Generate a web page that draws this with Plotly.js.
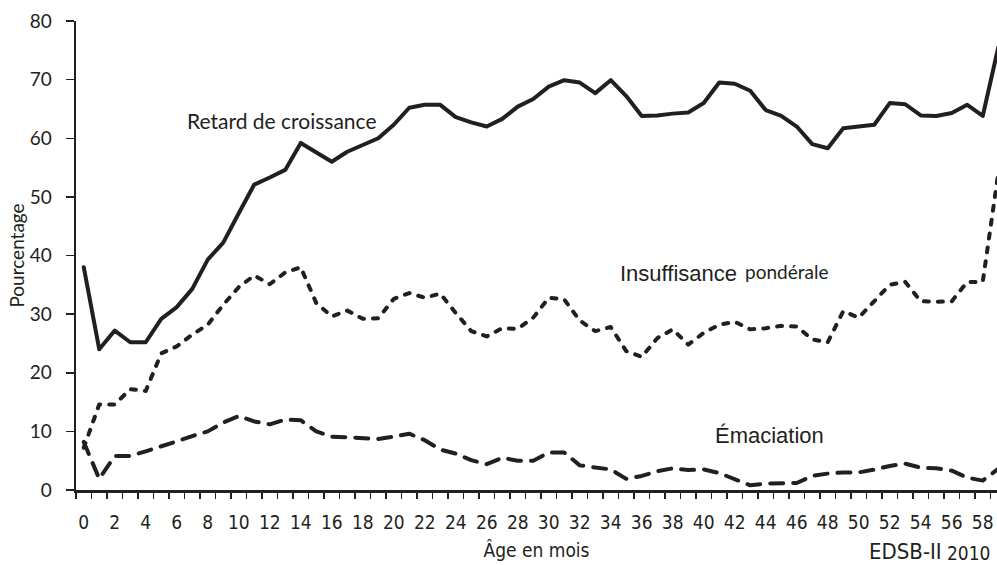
<!DOCTYPE html>
<html>
<head>
<meta charset="utf-8">
<script src="https://cdn.plot.ly/plotly-3.0.1.min.js"></script>
<style>
html, body { margin: 0; padding: 0; background: #fff; }
#chart { width: 997px; height: 565px; }
.scatterlayer path.js-line { stroke-linecap: round !important; stroke-linejoin: round !important; }
</style>
</head>
<body>
<div id="chart"></div>
<script>
// Age in months (categories)
const months = [0,1,2,3,4,5,6,7,8,9,10,11,12,13,14,15,16,17,18,19,20,21,22,23,24,25,26,27,28,29,30,31,32,33,34,35,36,37,38,39,40,41,42,43,44,45,46,47,48,49,50,51,52,53,54,55,56,57,58,59];

// Retard de croissance (%)
const retard = [38.0,24.0,27.2,25.2,25.2,29.2,31.2,34.3,39.3,42.2,
                47.2,52.1,53.3,54.6,59.2,57.6,56.0,57.7,58.9,60.0,
                62.3,65.2,65.7,65.7,63.6,62.7,62.0,63.3,65.4,66.7,
                68.8,69.9,69.5,67.7,69.9,67.2,63.8,63.9,64.2,64.4,
                66.0,69.5,69.3,68.1,64.8,63.8,62.0,59.0,58.3,61.7,
                62.0,62.3,66.0,65.8,63.9,63.8,64.3,65.7,63.8,75.5];

// Insuffisance pondérale (%)
const insuffisance = [7.2,14.6,14.6,17.2,16.9,23.3,24.5,26.5,28.2,31.6,
                      34.6,36.6,35.1,37.1,38.0,31.9,29.6,30.6,29.2,29.3,
                      32.6,33.6,32.8,33.5,30.2,27.1,26.2,27.6,27.5,29.4,
                      32.8,32.5,28.9,27.1,27.8,23.7,22.7,25.9,27.4,24.8,
                      26.8,28.2,28.7,27.4,27.6,28.0,27.9,25.7,25.2,30.5,
                      29.4,32.2,35.0,35.5,32.2,32.1,32.2,35.5,35.5,54.0];

// Émaciation (%)
const emaciation = [8.2,1.9,5.8,5.8,6.6,7.4,8.3,9.2,10.0,11.5,
                    12.6,11.7,11.2,12.0,11.9,10.0,9.1,9.0,8.9,8.7,
                    9.1,9.6,8.5,6.9,6.2,5.1,4.4,5.5,5.0,5.0,
                    6.4,6.4,4.2,3.8,3.5,1.9,2.4,3.2,3.7,3.4,
                    3.5,2.9,1.8,0.8,1.1,1.1,1.2,2.4,2.8,3.0,
                    3.0,3.5,4.1,4.5,3.8,3.7,3.3,2.1,1.6,3.6];

// Tick labels
const xTickVals = [0,2,4,6,8,10,12,14,16,18,20,22,24,26,28,30,32,34,36,38,40,42,44,46,48,50,52,54,56,58];
const xTickText = xTickVals.map(String);
const yTickVals = [0,10,20,30,40,50,60,70,80];

const INK = '#231f20';
const narrow = '"Liberation Sans Narrow", "Arial Narrow", "DejaVu Sans Condensed", sans-serif';
const calibri = 'Lato, "Open Sans", sans-serif';
const arial = '"Liberation Sans", Arial, sans-serif';

const traces = [
  { x: months, y: retard, type: 'scatter', mode: 'lines', name: 'Retard de croissance',
    line: { color: INK, width: 4 } },
  { x: months, y: insuffisance, type: 'scatter', mode: 'lines', name: 'Insuffisance pondérale',
    line: { color: INK, width: 4, dash: '5px,9px' } },
  { x: months, y: emaciation, type: 'scatter', mode: 'lines', name: 'Émaciation',
    line: { color: INK, width: 4, dash: '13px,10px' } }
];

const layout = {
  width: 997, height: 565,
  margin: { l: 76, r: 0, t: 21, b: 75, pad: 0 },
  paper_bgcolor: '#fff', plot_bgcolor: '#fff',
  showlegend: false,
  xaxis: {
    range: [-0.5, 58.92],
    tickmode: 'array', tickvals: xTickVals, ticktext: xTickText,
    ticks: '', showgrid: false, zeroline: false,
    showline: true, linecolor: INK, linewidth: 2.5,
    tickfont: { family: narrow, size: 19, color: INK },
    ticklabelstandoff: 14,
    minor: { tickmode: 'linear', tick0: -0.5, dtick: 1, ticks: 'outside', ticklen: 6, tickwidth: 1.5, tickcolor: INK, showgrid: false },
    title: { text: 'Âge en mois', font: { family: narrow, size: 19, color: INK }, standoff: 12 }
  },
  yaxis: {
    range: [0, 80],
    tickmode: 'array', tickvals: yTickVals,
    ticks: 'outside', ticklen: 8, tickwidth: 1.5, tickcolor: INK,
    showgrid: false, zeroline: false,
    showline: true, linecolor: INK, linewidth: 2.5,
    tickfont: { family: calibri, size: 19, color: INK },
    ticklabelstandoff: 10,
    title: { text: 'Pourcentage', font: { family: calibri, size: 19, color: INK }, standoff: 0 }
  },
  annotations: [
    { x: 12.77, y: 62.96, xref: 'x', yref: 'y', text: 'Retard de croissance', showarrow: false,
      xanchor: 'center', yanchor: 'middle', font: { family: calibri, size: 21, color: INK } },
    { x: 34.45, y: 36.9, xref: 'x', yref: 'y', text: 'Insuffisance', showarrow: false,
      xanchor: 'left', yanchor: 'middle', font: { family: arial, size: 22, color: INK } },
    { x: 42.55, y: 37.3, xref: 'x', yref: 'y', text: 'pondérale', showarrow: false,
      xanchor: 'left', yanchor: 'middle', font: { family: calibri, size: 19, color: INK } },
    { x: 40.58, y: 9.3, xref: 'x', yref: 'y', text: 'Émaciation', showarrow: false,
      xanchor: 'left', yanchor: 'middle', font: { family: arial, size: 22, color: INK } },
    { x: 0.942, y: -0.132, xref: 'paper', yref: 'paper', text: 'EDSB-II', showarrow: false,
      xanchor: 'right', yanchor: 'middle', font: { family: narrow, size: 22, color: INK } },
    { x: 0.943, y: -0.135, xref: 'paper', yref: 'paper', text: '2010', showarrow: false,
      xanchor: 'left', yanchor: 'middle', font: { family: narrow, size: 19, color: INK } }
  ]
};

Plotly.newPlot('chart', traces, layout, { staticPlot: true, displayModeBar: false });
</script>
</body>
</html>
